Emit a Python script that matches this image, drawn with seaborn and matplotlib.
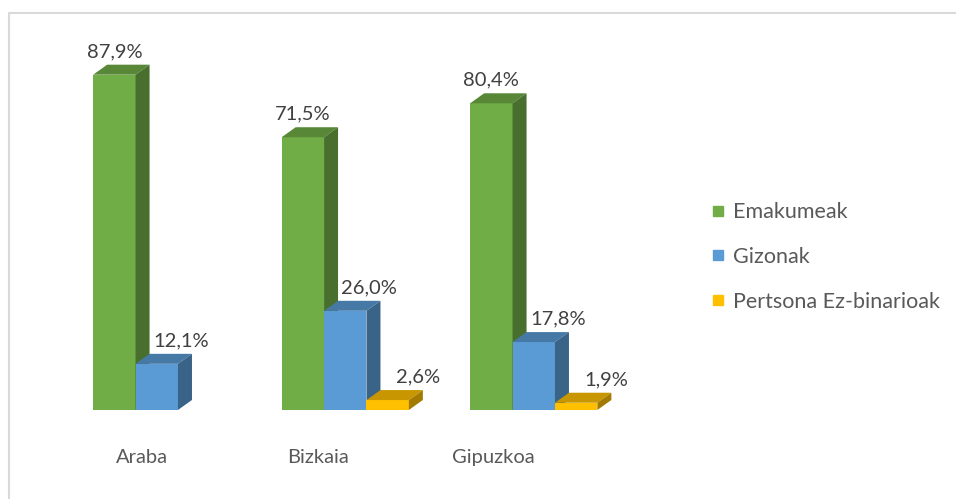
import seaborn as sns
import matplotlib.pyplot as plt
import numpy as np
import pandas as pd
from matplotlib.patches import Polygon
from matplotlib.lines import Line2D
from matplotlib.colors import to_rgb

regions = ["Araba", "Bizkaia", "Gipuzkoa"]
groups = ["Emakumeak", "Gizonak", "Pertsona Ez-binarioak"]
emakumeak = [87.9, 71.5, 80.4]
gizonak = [12.1, 26.0, 17.8]
ez_binarioak = [np.nan, 2.6, 1.9]
colors = ["#70AD47", "#5B9BD5", "#FFC000"]

rows = []
for g, vals in zip(groups, [emakumeak, gizonak, ez_binarioak]):
    for r, v in zip(regions, vals):
        rows.append({"region": r, "group": g, "value": v})
df = pd.DataFrame(rows).dropna()

sns.set_style("white")
plt.rcParams["font.family"] = ["Lato", "DejaVu Sans"]

fig = plt.figure(figsize=(9.56, 4.99), dpi=100)
ax = fig.add_axes([0.0654, 0.1784, 0.5915, 0.7415])

sns.barplot(data=df, x="region", y="value", hue="group", hue_order=groups,
            order=regions, palette=colors, width=0.675, saturation=1,
            linewidth=0, legend=False, errorbar=None, ax=ax)
ax.set_xlim(-0.5, 2.5)
ax.set_ylim(0, 97)
ax.axis("off")

# pixel -> data conversion for the fake 3D depth
p0, p1 = ax.transData.transform([(0, 0), (1, 1)])
px_x = p1[0] - p0[0]
px_y = p1[1] - p0[1]
dx = 14 / px_x
dy = 10 / px_y

label_nudge = [0, 24, 30]  # px, per series
for h_i, cont in enumerate(ax.containers):
    base = to_rgb(colors[h_i])
    top_c = tuple(c * 0.78 for c in base)
    side_c = tuple(c * 0.64 for c in base)
    for bar in cont:
        x0 = bar.get_x()
        w = bar.get_width()
        h = bar.get_height()
        if np.isnan(h):
            continue
        bar.set_zorder(2 + h_i)
        top = Polygon([(x0, h), (x0 + w, h), (x0 + w + dx, h + dy), (x0 + dx, h + dy)],
                      closed=True, facecolor=top_c, edgecolor="none", zorder=2.5 + h_i)
        side = Polygon([(x0 + w, 0), (x0 + w + dx, dy), (x0 + w + dx, h + dy), (x0 + w, h)],
                       closed=True, facecolor=side_c, edgecolor="none", zorder=2.5 + h_i)
        ax.add_patch(top)
        ax.add_patch(side)
        txt = f"{h:.1f}%".replace(".", ",")
        ax.annotate(txt, xy=(x0 + w / 2, h), xytext=(label_nudge[h_i] * 0.72, 23 * 0.72),
                    textcoords="offset points", ha="center", va="center",
                    fontsize=14.5, color="#404040", annotation_clip=False)

# category labels (shifted left by the floor perspective)
for i, r in enumerate(regions):
    ax.annotate(r, xy=(i, 0), xytext=((-15 - 12.5 * i) * 0.72, -48 * 0.72),
                textcoords="offset points", ha="center", va="center",
                fontsize=14.5, color="#595959", annotation_clip=False)

handles = [Line2D([], [], marker="s", linestyle="none", markersize=7.5, color=c) for c in colors]
fig.legend(handles, groups, loc="center left", bbox_to_anchor=(692 / 956, 1 - 257 / 499),
           frameon=False, fontsize=15.5, labelspacing=1.15, handlelength=0.65,
           handletextpad=0.35, labelcolor="#595959")

# chart frame
fig.add_artist(Line2D([9 / 956, 1], [1 - 13 / 499, 1 - 13 / 499], transform=fig.transFigure,
                      color="#D9D9D9", lw=1.5))
fig.add_artist(Line2D([9 / 956, 9 / 956], [0, 1 - 13 / 499], transform=fig.transFigure,
                      color="#D9D9D9", lw=1.5))

fig.savefig("out.png", dpi=100)
